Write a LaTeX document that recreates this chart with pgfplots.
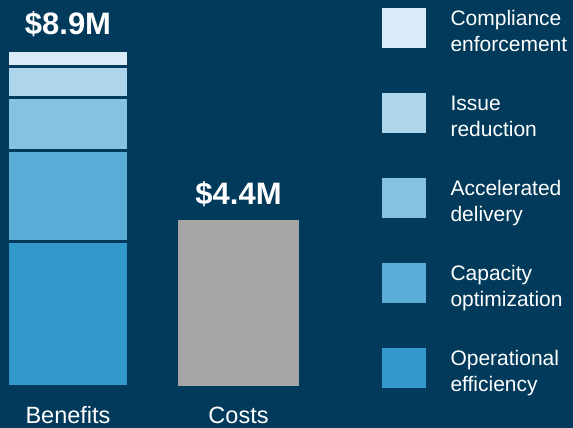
\documentclass[border=0pt]{standalone}
\usepackage{pgfplots}
\pgfplotsset{compat=1.18}
\usepackage{fontspec}
\setmainfont{Liberation Sans}
\definecolor{bg}{RGB}{1,58,91}
\definecolor{cOp}{RGB}{51,153,204}
\definecolor{cCap}{RGB}{91,172,214}
\definecolor{cAcc}{RGB}{133,193,224}
\definecolor{cIss}{RGB}{174,214,235}
\definecolor{cComp}{RGB}{216,235,246}
\definecolor{cCost}{RGB}{166,166,166}
\pgfplotsset{
  legimg/.style={legend image code/.code={%
    \fill[##1,draw=none] (0bp,2.7bp) rectangle (44bp,42.7bp);
    \path (0bp,-6bp) (0bp,44bp);}},
  seg/.style={fill=#1, draw=bg, line width=3bp, legimg},
}
\begin{document}
\begin{tikzpicture}
\fill[bg] (0,-42bp) rectangle (573bp,386bp);
\begin{axis}[
  at={(0,0)}, anchor=south west,
  scale only axis, width=573bp, height=386bp,
  xmin=0, xmax=573, ymin=0, ymax=10.2387,
  axis line style={draw=none},
  major tick length=0pt,
  ytick=\empty,
  xtick={68,238.5},
  xticklabels={Benefits,Costs},
  xticklabel style={font=\fontsize{23.5bp}{28bp}\selectfont, text=white, anchor=base, inner sep=0pt, yshift=-37.3bp},
  ybar stacked, bar width=121bp,
  reverse legend,
  legend cell align=left,
  legend style={at={(0.6632,0.9855)}, anchor=north west, draw=none, fill=none,
    inner sep=0pt, outer sep=0pt, row sep=32bp,
    font=\fontsize{21bp}{25.7bp}\selectfont, text=white,
    cells={anchor=base west, align=left, inner sep=0pt},
    /tikz/every odd column/.append style={column sep=23bp}},
]
\addplot[seg=cOp] coordinates {(68,3.83) (238.5,0)};
\addlegendentry{Operational\\efficiency}
\addplot[seg=cCap] coordinates {(68,2.41) (238.5,0)};
\addlegendentry{Capacity\\optimization}
\addplot[seg=cAcc] coordinates {(68,1.41) (238.5,0)};
\addlegendentry{Accelerated\\delivery}
\addplot[seg=cIss] coordinates {(68,0.83) (238.5,0)};
\addlegendentry{Issue\\reduction}
\addplot[seg=cComp] coordinates {(68,0.42) (238.5,0)};
\addlegendentry{Compliance\\enforcement}
\addplot[fill=cCost, draw=none, forget plot] coordinates {(68,0) (238.5,4.4)};
\node[anchor=base, text=white, font=\fontsize{31bp}{36bp}\selectfont\bfseries, yshift=15.5bp] at (axis cs:68,8.9) {\$8.9M};
\node[anchor=base, text=white, font=\fontsize{31bp}{36bp}\selectfont\bfseries, yshift=15.5bp] at (axis cs:238.5,4.4) {\$4.4M};
\end{axis}
\pgfresetboundingbox
\useasboundingbox (0,-42bp) rectangle (573bp,386bp);
\end{tikzpicture}
\end{document}
